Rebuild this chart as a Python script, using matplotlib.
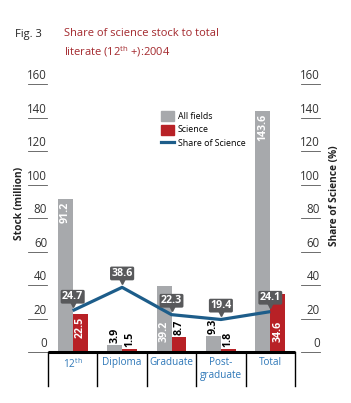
import numpy as np
import matplotlib
matplotlib.use("Agg")
import matplotlib.pyplot as plt
from matplotlib.patches import Patch
from matplotlib.lines import Line2D
from matplotlib import transforms

plt.rcParams['font.family'] = ['Open Sans', 'DejaVu Sans']
plt.rcParams['mathtext.fontset'] = 'custom'
plt.rcParams['mathtext.rm'] = 'Open Sans'

# data
categories = ['12$^{\\rm th}$', 'Diploma', 'Graduate', 'Post-\ngraduate', 'Total']
all_fields = [91.2, 3.9, 39.2, 9.3, 143.6]
science = [22.5, 1.5, 8.7, 1.8, 34.6]
share = [24.7, 38.6, 22.3, 19.4, 24.1]
yticks = [0, 20, 40, 60, 80, 100, 120, 140, 160]

GRAY = '#a7a9ac'
RED = '#b82126'
LINE = '#1d5d8a'
BLUE = '#2f78b8'
BOX = '#58595b'

W, H = 351, 403
fig = plt.figure(figsize=(W / 100, H / 100), dpi=100)
ax = fig.add_axes([48 / W, 1 - 352 / H, 247 / W, 268 / H])
ax.set_xlim(-0.5, len(categories) - 0.5)
ax.set_ylim(0, 160)
ax.axis('off')

x = np.arange(len(categories))
bw = 0.3
ax.bar(x - bw / 2, all_fields, bw, color=GRAY, zorder=2)
ax.bar(x + bw / 2, science, bw, color=RED, zorder=2)
ax.plot(x, share, color=LINE, lw=2.3, zorder=3, solid_capstyle='butt')

# bar value labels: inside (white) for tall bars, above (black) for short ones;
# where a callout sits on the bar top, the label goes to the bar foot
low = {(0, 2), (1, 4)}
for s, (xs, vals) in enumerate([(x - bw / 2, all_fields), (x + bw / 2, science)]):
    for i, (xi, v) in enumerate(zip(xs, vals)):
        if (s, i) in low:
            ax.annotate(f'{v:.1f}', (xi, 0), xytext=(0, 7.5), textcoords='offset points',
                        rotation=90, ha='center', va='bottom', color='white',
                        fontsize=7.7, fontweight='bold', zorder=4)
        elif v > 20:
            ax.annotate(f'{v:.1f}', (xi, v), xytext=(0, -2), textcoords='offset points',
                        rotation=90, ha='center', va='top', color='white',
                        fontsize=7.7, fontweight='bold', zorder=4)
        else:
            ax.annotate(f'{v:.1f}', (xi, v), xytext=(0, 1.5), textcoords='offset points',
                        rotation=90, ha='center', va='bottom', color='black',
                        fontsize=7.7, fontweight='bold', zorder=4)

# callouts for share line
for xi, v in zip(x, share):
    ax.annotate(f'{v:.1f}', (xi, v), xytext=(0, 10), textcoords='offset points',
                ha='center', va='center', color='white', fontsize=7.7, fontweight='bold',
                bbox=dict(boxstyle='round,pad=0.13,rounding_size=0.15', fc=BOX, ec='none'),
                zorder=5)
    tri = transforms.offset_copy(ax.transData, fig=fig, x=0, y=4.5, units='points')
    ax.plot(xi, v, marker='v', ms=5, color=BOX, transform=tri, zorder=5, clip_on=False)

# axis ticks: labels with short underline, both sides
blend = transforms.blended_transform_factory(ax.transAxes, ax.transData)
for t in yticks:
    ax.plot([-0.081, -0.004], [t, t], color='#555555', lw=0.6, transform=blend, clip_on=False)
    ax.text(-0.004, t + 1.0, str(t), transform=blend, ha='right', va='bottom',
            fontsize=8.3, color='#333333')
    ax.plot([1.025, 1.1], [t, t], color='#555555', lw=0.6, transform=blend, clip_on=False)
    ax.text(1.1, t + 1.0, str(t), transform=blend, ha='right', va='bottom',
            fontsize=8.3, color='#333333')

# bottom base line and category separators
ax.plot([-0.5, len(categories) - 0.5], [0, 0], color='black', lw=2.2, clip_on=False,
        zorder=6, solid_capstyle='butt')
sep = transforms.blended_transform_factory(ax.transData, ax.transAxes)
for b in np.arange(len(categories) + 1) - 0.5:
    ax.plot([b, b], [0, -0.127], color='black', lw=1.0, transform=sep, clip_on=False)
for xi, c in zip(x, categories):
    ax.text(xi, -0.018, c, transform=sep, ha='center', va='top', color=BLUE,
            fontsize=7.2, linespacing=1.25)

# axis titles
fig.text(20 / W, 1 - 203 / H, 'Stock (million)', rotation=90, ha='center', va='center',
         fontsize=7.3, fontweight='bold', color='#222222')
fig.text(334 / W, 1 - 196 / H, 'Share of Science (%)', rotation=90, ha='center', va='center',
         fontsize=7.3, fontweight='bold', color='#222222')

# legend
handles = [Patch(color=GRAY), Patch(color=RED), Line2D([], [], color=LINE, lw=2.3)]
ax.legend(handles, ['All fields', 'Science', 'Share of Science'], loc='upper left',
          bbox_to_anchor=((161 - 48) / 247, (352 - 111) / 268), frameon=False,
          fontsize=6.4, handlelength=1.5, handleheight=1.35, handletextpad=0.4,
          labelspacing=0.4, borderpad=0, borderaxespad=0)

# titles
fig.text(15 / W, 1 - 34 / H, 'Fig. 3', ha='left', va='center', fontsize=8, color='#222222')
fig.text(64 / W, 1 - 34 / H, 'Share of science stock to total', ha='left', va='center',
         fontsize=8, color='#a3282d')
fig.text(64 / W, 1 - 52 / H, 'literate (12$^{\\rm th}$ +):2004', ha='left', va='center',
         fontsize=8, color='#a3282d')

fig.savefig('out.png', dpi=100)
